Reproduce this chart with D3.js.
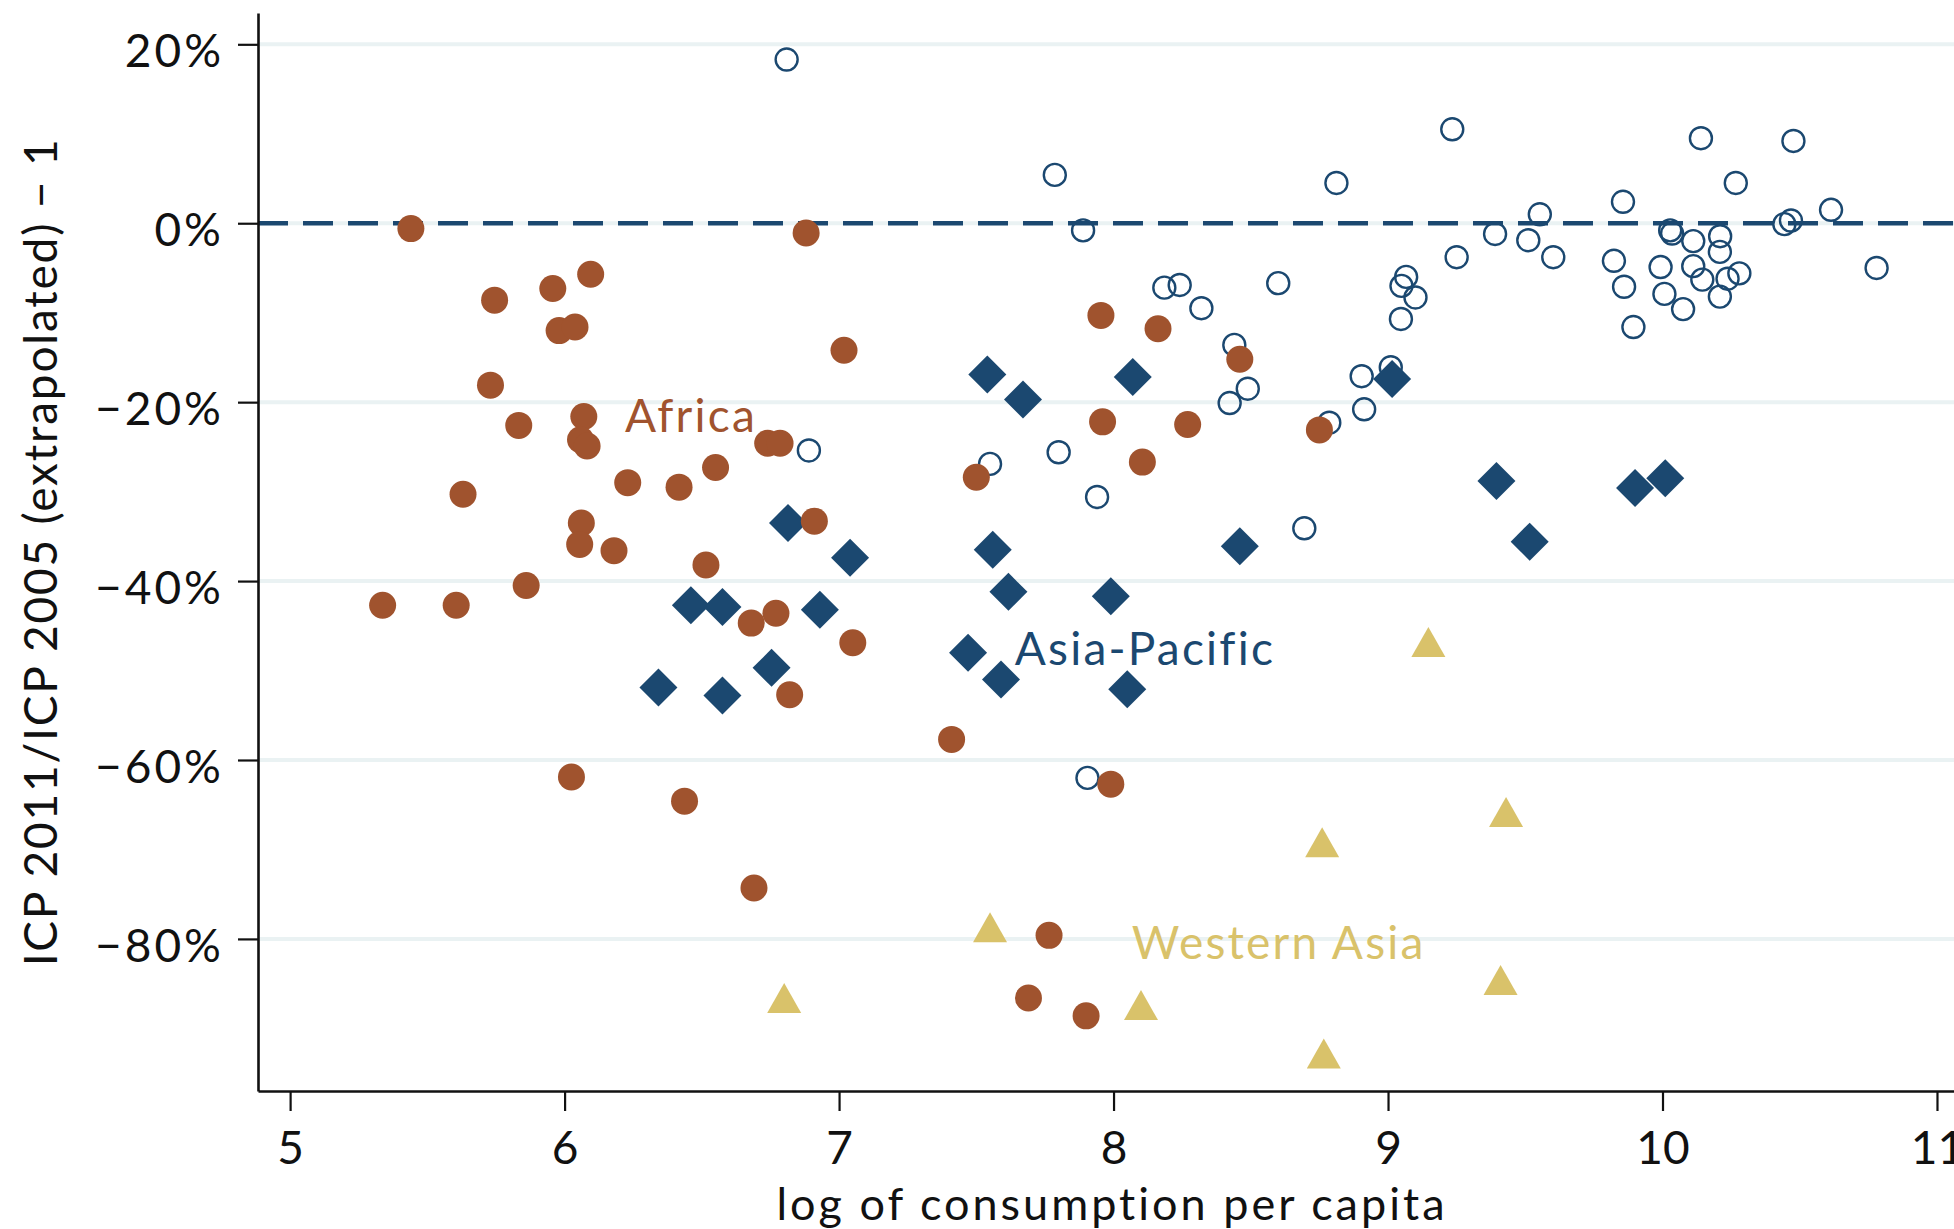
<!DOCTYPE html>
<html>
<head>
<meta charset="utf-8">
<script src="https://cdn.jsdelivr.net/npm/d3@7"></script>
<style>
  html, body { margin: 0; padding: 0; background: #fff; }
  svg { display: block; }
  text { font-family: Lato, "Open Sans", sans-serif; }
</style>
</head>
<body>
<svg id="chart" width="1954" height="1229"></svg>
<script>
// ---------- data (x = log of consumption per capita, y = % change) ----------
const africa = [
  [5.44,-0.6],[5.745,-8.6],[5.957,-7.3],[6.095,-5.7],[5.98,-12.0],[6.038,-11.6],
  [5.73,-18.1],[5.833,-22.6],[6.07,-21.6],[6.058,-24.2],[6.082,-24.9],[6.23,-29.0],
  [5.63,-30.3],[6.417,-29.5],[6.55,-27.3],[6.74,-24.6],[6.785,-24.6],[6.88,-1.1],
  [7.018,-14.2],[6.061,-33.5],[6.055,-35.9],[6.18,-36.6],[6.91,-33.3],[5.86,-40.5],
  [5.337,-42.7],[5.605,-42.7],[6.515,-38.2],[6.68,-44.7],[6.77,-43.6],[7.05,-46.9],
  [6.82,-52.7],[6.025,-61.9],[6.437,-64.6],[6.69,-74.3],[7.41,-57.7],[7.50,-28.4],
  [7.954,-10.3],[8.162,-11.8],[7.96,-22.2],[8.27,-22.5],[8.105,-26.7],[8.46,-15.2],
  [8.75,-23.1],[7.99,-62.7],[7.765,-79.6],[7.69,-86.6],[7.90,-88.6]
];
const asiaPacific = [
  [7.54,-16.9],[7.67,-19.7],[8.07,-17.2],[9.015,-17.4],[6.814,-33.5],[7.04,-37.4],
  [7.56,-36.5],[7.617,-41.2],[7.99,-41.7],[8.46,-36.1],[9.395,-28.8],[9.90,-29.6],
  [10.01,-28.5],[9.516,-35.6],[6.46,-42.7],[6.575,-42.9],[6.93,-43.2],[6.342,-51.9],
  [6.575,-52.8],[6.754,-49.7],[7.47,-48.0],[7.59,-51.0],[8.05,-52.1]
];
const westernAsia = [
  [9.147,-46.8],[9.43,-65.8],[8.76,-69.2],[7.55,-78.7],[6.80,-86.6],[8.10,-87.4],
  [8.766,-92.8],[9.41,-84.6]
];
const others = [
  [6.809,18.3],[7.786,5.4],[7.889,-0.8],[6.89,-25.4],[7.55,-26.9],[7.80,-25.6],
  [7.94,-30.6],[7.905,-62.0],[8.185,-7.2],[8.241,-6.9],[8.32,-9.5],[8.60,-6.7],
  [8.44,-13.6],[8.489,-18.5],[8.423,-20.1],[8.695,-34.1],[8.786,-22.3],[8.812,4.5],
  [8.904,-17.1],[8.913,-20.8],[9.01,-16.1],[9.066,-6.0],[9.049,-7.0],[9.10,-8.3],
  [9.047,-10.7],[9.234,10.5],[9.25,-3.8],[9.39,-1.2],[9.511,-1.9],[9.553,1.0],
  [9.602,-3.8],[9.823,-4.2],[9.856,2.4],[9.86,-7.1],[9.894,-11.6],[9.993,-4.9],
  [10.007,-7.9],[10.028,-0.8],[10.035,-1.15],[10.075,-9.6],[10.112,-2.0],[10.112,-4.8],
  [10.145,-6.3],[10.14,9.5],[10.21,-1.45],[10.209,-3.2],[10.237,-6.2],[10.28,-5.6],
  [10.209,-8.2],[10.267,4.5],[10.444,-0.1],[10.468,0.3],[10.477,9.2],[10.614,1.5],
  [10.78,-5.0]
];
const xTicks = [5, 6, 7, 8, 9, 10, 11];
const yTicks = [20, 0, -20, -40, -60, -80];
const groupLabels = [
  { text: "Africa",       x: 6.22,  y: -23.35, group: "africa" },
  { text: "Asia-Pacific", x: 7.64,  y: -49.4,  group: "asia" },
  { text: "Western Asia", x: 8.066, y: -82.3,  group: "west" }
];
const xTitle = "log of consumption per capita";
const yTitle = "ICP 2011/ICP 2005 (extrapolated) \u2212 1";

// ---------- styles ----------
const colors = { africa: "#a0532e", asia: "#1b4870", west: "#d9c26a", grid: "#eaf2f3", axis: "#111" };

const svg = d3.select("#chart");
const W = 1954, H = 1229;

const x = d3.scaleLinear().domain([4.883, 11.062]).range([258, 1954]);
const y = d3.scaleLinear().domain([-97, 23.5]).range([1091, 13]);

// gridlines
svg.append("g").selectAll("line").data(yTicks).join("line")
  .attr("x1", x.range()[0]).attr("x2", W)
  .attr("y1", d => y(d)).attr("y2", d => y(d))
  .attr("stroke", colors.grid).attr("stroke-width", 4);

// zero dashed reference line
svg.append("line")
  .attr("x1", x.range()[0]).attr("x2", W)
  .attr("y1", y(0)).attr("y2", y(0))
  .attr("stroke", colors.asia).attr("stroke-width", 4.5)
  .attr("stroke-dasharray", "30 15");

// axes
const fmtPct = d => (d < 0 ? "\u2212" + Math.abs(d) : d) + "%";
const yAxis = d3.axisLeft(y).tickValues(yTicks).tickFormat(fmtPct).tickSize(20).tickSizeOuter(0).tickPadding(14);
const gy = svg.append("g").attr("transform", `translate(${x.range()[0]},0)`).call(yAxis);
gy.select(".domain").attr("stroke", colors.axis).attr("stroke-width", 2.6);
gy.selectAll(".tick line").attr("stroke", colors.axis).attr("stroke-width", 2.2);
gy.selectAll(".tick text").attr("font-size", 46).attr("fill", "#111")
  .attr("font-family", "Lato, sans-serif").attr("dy", "0.48em").attr("letter-spacing", 3);

const xAxis = d3.axisBottom(x).tickValues(xTicks).tickFormat(d3.format("d")).tickSize(20).tickSizeOuter(0).tickPadding(20);
const gx = svg.append("g").attr("transform", `translate(0,${y.range()[0]})`).call(xAxis);
gx.select(".domain").attr("stroke", colors.axis).attr("stroke-width", 2.6);
gx.selectAll(".tick line").attr("stroke", colors.axis).attr("stroke-width", 2.2);
gx.selectAll(".tick text").attr("font-size", 46).attr("fill", "#111")
  .attr("font-family", "Lato, sans-serif").attr("dy", "0.72em");

// axis titles
svg.append("text").attr("x", 1112).attr("y", 1220).attr("text-anchor", "middle")
  .attr("font-size", 45).attr("letter-spacing", 3).attr("fill", "#111").text(xTitle);
svg.append("text").attr("transform", `translate(57,${(y.range()[0] + y.range()[1]) / 2}) rotate(-90)`)
  .attr("text-anchor", "middle").attr("font-size", 46).attr("letter-spacing", 1.8)
  .attr("fill", "#111").text(yTitle);

// marks
const pts = svg.append("g");
pts.selectAll("circle.other").data(others).join("circle").attr("class", "other")
  .attr("cx", d => x(d[0])).attr("cy", d => y(d[1])).attr("r", 11)
  .attr("fill", "none").attr("stroke", colors.asia).attr("stroke-width", 2.4);

const diamond = s => `M0,${-s}L${s},0L0,${s}L${-s},0Z`;
pts.selectAll("path.asia").data(asiaPacific).join("path").attr("class", "asia")
  .attr("transform", d => `translate(${x(d[0])},${y(d[1])})`)
  .attr("d", diamond(19)).attr("fill", colors.asia);

const tri = (w, h) => `M0,${-h / 2}L${w / 2},${h / 2}L${-w / 2},${h / 2}Z`;
pts.selectAll("path.west").data(westernAsia).join("path").attr("class", "west")
  .attr("transform", d => `translate(${x(d[0])},${y(d[1])})`)
  .attr("d", tri(34, 30)).attr("fill", colors.west);

pts.selectAll("circle.africa").data(africa).join("circle").attr("class", "africa")
  .attr("cx", d => x(d[0])).attr("cy", d => y(d[1])).attr("r", 13.5)
  .attr("fill", colors.africa);

// group labels
svg.append("g").selectAll("text").data(groupLabels).join("text")
  .attr("x", d => x(d.x)).attr("y", d => y(d.y))
  .attr("font-size", 46).attr("letter-spacing", 2.2)
  .attr("fill", d => colors[d.group]).text(d => d.text);
</script>
</body>
</html>
